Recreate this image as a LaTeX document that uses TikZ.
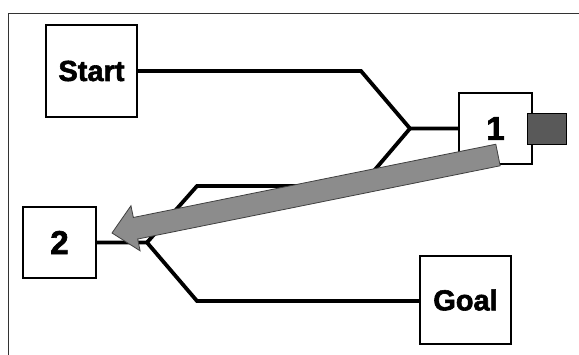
\documentclass[tikz,border=0pt]{standalone}
\usepackage{fontspec}
\setmainfont{Liberation Sans}
\newfontfamily\heavyfont{Liberation Sans}[BoldFeatures={FakeBold=2}]
\usetikzlibrary{calc}
\begin{document}
\begin{tikzpicture}[x=1pt,y=-1pt,
  boxsty/.style={draw=black,line width=1.8pt,fill=white,inner sep=0pt,
    font=\heavyfont\bfseries\fontsize{29}{29}\selectfont},
  numsty/.style={boxsty,font=\heavyfont\bfseries\fontsize{33}{33}\selectfont},
  wire/.style={line width=3.8pt,line join=miter,black},
  bigarrow/.style={fill=black!45,draw=black!75,line width=0.8pt,line join=miter},
  darksq/.style={draw=black,line width=1pt,fill=black!65,minimum width=39pt,minimum height=31pt,inner sep=0pt}]
\useasboundingbox (0,0) rectangle (579,354);
\fill[white] (0,0) rectangle (579,354);
% frame
\draw[black!80,line width=1pt] (8.5,600) -- (8.5,13.5) -- (700,13.5);
% boxes
\node[boxsty,minimum width=91pt,minimum height=92pt] (start) at (91.5,71) {Start};
\node[numsty,minimum width=73pt,minimum height=71pt] (n1) at (495.5,128.5) {1};
\node[numsty,minimum width=73pt,minimum height=71pt] (n2) at (59.5,242.5) {2};
\node[boxsty,minimum width=91pt,minimum height=88pt] (goal) at (465.5,300) {Goal};
\node[darksq] (sq) at (546.5,128.5) {};
% junction coordinates
\coordinate (a1) at (361,71);
\coordinate (jA) at (410,128.5);
\coordinate (a2) at (361,186);
\coordinate (b1) at (197,186);
\coordinate (jB) at (147,242.5);
\coordinate (b2) at (197,301);
% connectors
\draw[wire] (start.east) -- (a1) -- (jA) -- (n1.west);
\draw[wire] (jA) -- (a2) -- (b1) -- (jB);
\draw[wire] (n2.east) -- (jB) -- (b2) -- (b2 -| goal.west);
% big arrow
\coordinate (atail) at (498,155);
\coordinate (atip) at (112,233);
\coordinate (hb) at ($(atip)!24pt!(atail)$);
\draw[bigarrow]
  ($(atail)!11pt!90:(atip)$) --
  ($(hb)!11pt!-90:(atail)$) --
  ($(hb)!23pt!-90:(atail)$) --
  (atip) --
  ($(hb)!23pt!90:(atail)$) --
  ($(hb)!11pt!90:(atail)$) --
  ($(atail)!11pt!-90:(atip)$) -- cycle;
\end{tikzpicture}
\end{document}
